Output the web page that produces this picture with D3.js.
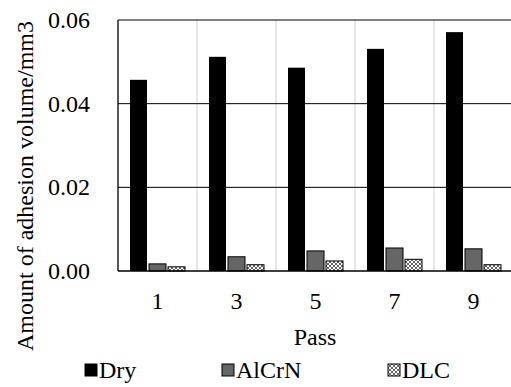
<!DOCTYPE html>
<html><head><meta charset="utf-8">
<script src="https://cdn.jsdelivr.net/npm/d3@7/dist/d3.min.js"></script>
</head><body style="margin:0;background:#fff">
<svg id="c" width="511" height="387"></svg>
<script>
const categories = ["1","3","5","7","9"];
const series = ["Dry","AlCrN","DLC"];
const dry   = [0.0457, 0.0512, 0.0486, 0.0531, 0.0571];
const alcrn = [0.0017, 0.0034, 0.0048, 0.0055, 0.0053];
const dlc   = [0.0010, 0.0015, 0.0024, 0.0028, 0.0015];
const yTicks = [0, 0.02, 0.04, 0.06];
const values = {Dry: dry, AlCrN: alcrn, DLC: dlc};

const svg = d3.select("#c");
const defs = svg.append("defs");
const pat = defs.append("pattern").attr("id","hatch").attr("patternUnits","userSpaceOnUse")
  .attr("width",4).attr("height",4);
pat.append("rect").attr("width",4).attr("height",4).attr("fill","#fff");
pat.append("path").attr("d","M0,0L4,4M4,0L0,4").attr("stroke","#555").attr("stroke-width",0.9);

const L=118, R=513, T=20, B=271;
const x = d3.scaleBand().domain(categories).range([L,R]);
const x1 = d3.scaleBand().domain(series).range([12, x.bandwidth()-12]).paddingInner(0.105);
const y = d3.scaleLinear().domain([0,0.06]).range([B,T]);

const fills = {Dry:"#000", AlCrN:"#666", DLC:"url(#hatch)"};

svg.append("g").selectAll("line").data(categories.slice(1)).join("line")
  .attr("x1",d=>x(d)).attr("x2",d=>x(d)).attr("y1",T).attr("y2",B)
  .attr("stroke","#d0d0d0").attr("stroke-width",1);
svg.append("g").selectAll("line").data(yTicks.filter(v=>v>0)).join("line")
  .attr("x1",L).attr("x2",R).attr("y1",d=>y(d)).attr("y2",d=>y(d))
  .attr("stroke","#000").attr("stroke-width",1);

categories.forEach((c,i)=>{
  svg.append("g").selectAll("rect").data(series).join("rect")
    .attr("x",s=>x(c)+x1(s)).attr("width",x1.bandwidth())
    .attr("y",s=>y(values[s][i])).attr("height",s=>B-y(values[s][i]))
    .attr("fill",s=>fills[s]).attr("stroke",s=>s==="Dry"?"none":"#000").attr("stroke-width",1);
});

svg.append("line").attr("x1",L).attr("x2",L).attr("y1",T).attr("y2",B).attr("stroke","#000").attr("stroke-width",1.3);
svg.append("line").attr("x1",L).attr("x2",R).attr("y1",B).attr("y2",B).attr("stroke","#000").attr("stroke-width",1.3);

const fs = "24px";
function txt(sel){ return sel.style("font-family",'"Liberation Serif", Tinos, "Times New Roman", serif').style("font-size",fs).attr("fill","#000"); }

txt(svg.append("g").selectAll("text").data(yTicks).join("text")
  .attr("x",90).attr("y",d=>y(d)+8).attr("text-anchor","end")).text(d3.format(".2f"));
txt(svg.append("g").selectAll("text").data(categories).join("text")
  .attr("x",d=>x(d)+x.bandwidth()/2).attr("y",309).attr("text-anchor","middle")).text(d=>d);
txt(svg.append("text").attr("x",315).attr("y",345).attr("text-anchor","middle")).text("Pass");
txt(svg.append("text").attr("transform","translate(33,186) rotate(-90)").attr("text-anchor","middle"))
  .text("Amount of adhesion volume/mm3");

const legX = [85, 222, 388];
const lg = svg.append("g").selectAll("g").data(series).join("g")
  .attr("transform",(d,i)=>`translate(${legX[i]},364)`);
lg.append("rect").attr("width",12).attr("height",12)
  .attr("fill",d=>fills[d]).attr("stroke","#000").attr("stroke-width",1);
txt(lg.append("text").attr("x",14).attr("y",14)).text(d=>d);
</script>
</body></html>
